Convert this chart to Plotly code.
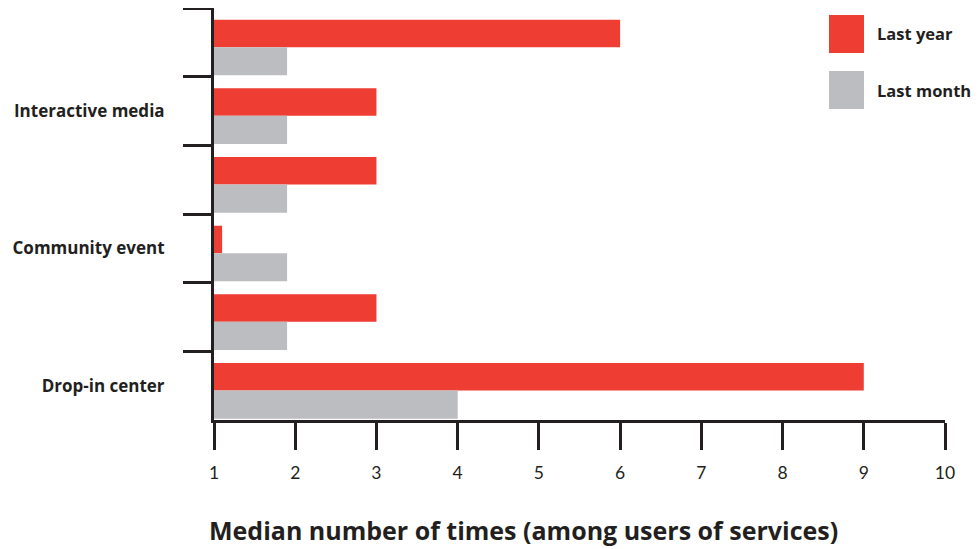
import plotly.graph_objects as go

categories = [" ", "Interactive media", "  ", "Community event", "   ", "Drop-in center"]
last_year = [6, 3, 3, 1.1, 3, 9]
last_month = [1.9, 1.9, 1.9, 1.9, 1.9, 4]
x_ticks = list(range(1, 11))

RED = "#EE3D33"
GREY = "#BCBDC0"
INK = "#231F20"
FONT = "Open Sans"

# the page body adds an 8px margin, so the figure is sized/placed to make up for it
PLOT_L, PLOT_R, PLOT_T, PLOT_B = 214, 945, 8, 420


def px_x(v):
    return (v - PLOT_L) / (PLOT_R - PLOT_L)


def px_y(v):
    return (PLOT_B - v) / (PLOT_B - PLOT_T)


fig = go.Figure()
fig.add_trace(go.Bar(y=categories, x=last_year, orientation="h", name="Last year",
                     marker=dict(color=RED, line=dict(width=0)), offset=-0.33, width=0.40))
fig.add_trace(go.Bar(y=categories, x=last_month, orientation="h", name="Last month",
                     marker=dict(color=GREY, line=dict(width=0)), offset=0.07, width=0.41))

# legend drawn by hand: big square swatches
for i, (name, color) in enumerate([("Last year", RED), ("Last month", GREY)]):
    y_top = 15 + i * 56
    fig.add_shape(type="rect", xref="paper", yref="paper",
                  x0=px_x(829), x1=px_x(864), y0=px_y(y_top + 38), y1=px_y(y_top),
                  fillcolor=color, line=dict(width=0))
    fig.add_annotation(text=name, xref="paper", yref="paper",
                       x=px_x(875), y=px_y(y_top + 19),
                       xanchor="left", yanchor="middle", showarrow=False,
                       font=dict(family=FONT, size=16.5, color=INK, weight="bold"))

# axis title sits left of the plot centre in the original, so it is an annotation
fig.add_annotation(text="Median number of times (among users of services)",
                   xref="paper", yref="paper", x=px_x(523), y=px_y(530),
                   xanchor="center", yanchor="middle", showarrow=False,
                   font=dict(family=FONT, size=25, color=INK, weight="bold"))

fig.update_layout(
    width=971, height=541,
    margin=dict(l=206, r=34, t=0, b=129),
    paper_bgcolor="white", plot_bgcolor="white",
    barmode="overlay", showlegend=False,
    font=dict(family=FONT, color=INK),
)
fig.update_xaxes(
    range=[1, 10], tickvals=x_ticks, showgrid=False, zeroline=False,
    showline=True, linecolor=INK, linewidth=3,
    ticks="outside", ticklen=27, tickwidth=3, tickcolor=INK,
    ticklabelstandoff=8, tickfont=dict(family="Lato", size=17.5, color=INK),
)
fig.update_yaxes(
    type="category", categoryorder="array", categoryarray=categories,
    range=[5.5, -0.5], showgrid=False, zeroline=False,
    showline=True, linecolor=INK, linewidth=3,
    ticks="outside", tickson="boundaries", ticklen=28, tickwidth=3, tickcolor=INK,
    ticklabelstandoff=43, tickfont=dict(size=17, color=INK, weight="bold"),
)

fig.write_html("out.html")
